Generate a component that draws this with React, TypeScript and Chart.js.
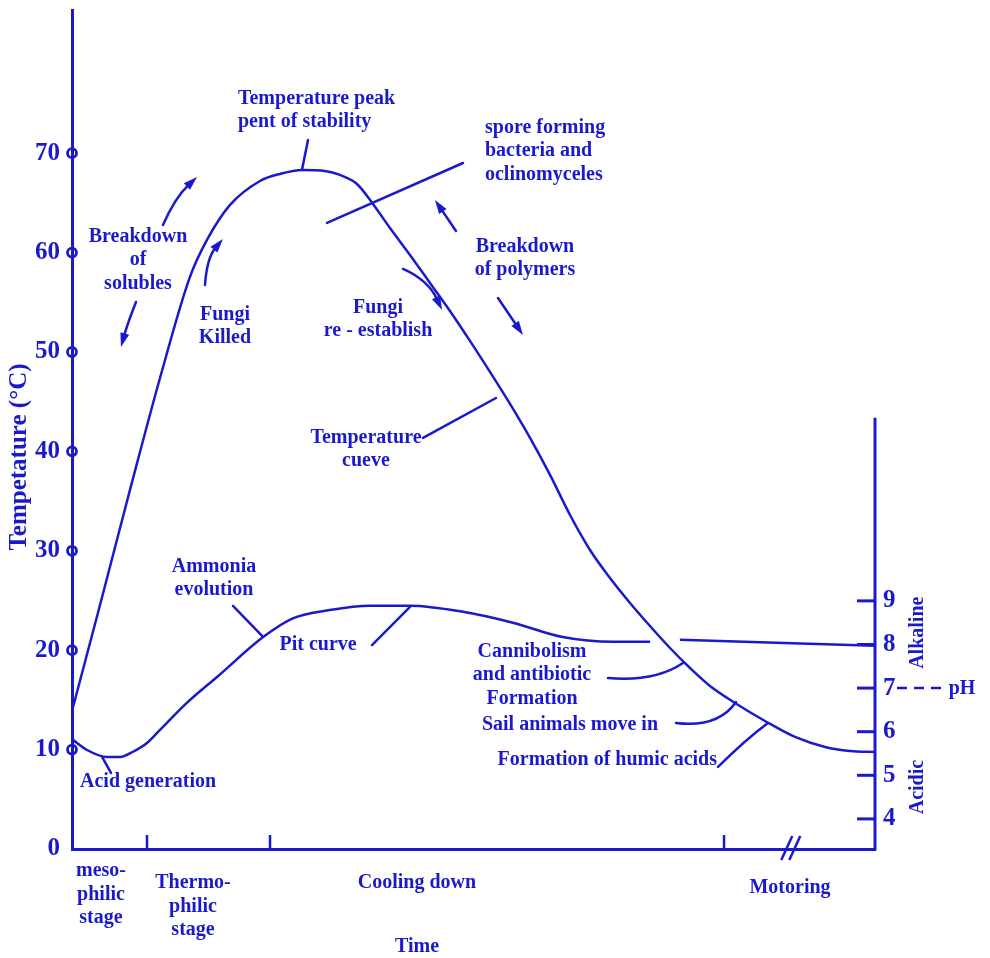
import React, { useEffect, useRef } from "react";
import { Chart, registerables } from "chart.js";

Chart.register(...registerables);

const BLUE = "#1a1acc";
const FONT = '"Liberation Serif", "Times New Roman", serif';

// ---- scales ----
const timeMin = 0;
const timeMax = 100;
const tempMin = 0;
const tempMax = 84.4;
const pHMin = 3.31;
const pHMax = 22.55;
const pHAxisTop = 13.2;
const tempTicks = [0, 10, 20, 30, 40, 50, 60, 70];
const pHTicks = [4, 5, 6, 7, 8, 9];

// ---- temperature curve (time units, °C) ----
const tempTime = [0, 3.49, 7.22, 10.96, 14.69, 16.81, 19.68, 23.41, 25.9, 28.64, 31.51, 33.37, 35.49, 37.48, 39.6, 42.09, 44.58, 47.07, 49.56, 52.05, 54.55, 57.04, 59.53, 62.02, 64.51, 67.0, 69.49, 71.98, 74.47, 76.96, 79.45, 82.57, 86.3, 90.04, 93.77, 96.89, 100];
const tempValues = [13.88, 24.55, 36.12, 47.38, 57.55, 61.27, 64.79, 67.2, 67.91, 68.31, 68.21, 67.81, 66.9, 64.89, 62.47, 59.76, 56.94, 54.12, 51.11, 47.99, 44.77, 41.35, 37.63, 33.6, 30.08, 27.26, 24.75, 22.43, 20.22, 18.21, 16.4, 14.69, 12.88, 11.27, 10.26, 9.86, 9.76];

// ---- pH curve (time units, pH) ; null = gap where it passes the temperature curve ----
const pHTime = [0, 1.87, 4.36, 5.98, 7.6, 9.34, 10.96, 14.3, 18.1, 23.8, 27.5, 32.1, 37.1, 42.1, 48.7, 54.9, 61.1, 67.4, 72.0, 73.9, 75.7, 100];
const pHValues = [5.83, 5.58, 5.42, 5.42, 5.54, 5.74, 6.04, 6.66, 7.26, 8.17, 8.6, 8.79, 8.89, 8.89, 8.75, 8.5, 8.17, 8.06, 8.06, null, 8.11, 7.97];

// ---- x axis stages ----
const stageBoundaries = [9.34, 24.66, 81.2];
const breakAt = 89.7;
const stageLabels = [
  { lines: ["meso-", "philic", "stage"], t: 3.61, off: 22 },
  { lines: ["Thermo-", "philic", "stage"], t: 15.07, off: 34 },
  { lines: ["Cooling down"], t: 42.96, off: 34 },
  { lines: ["Motoring"], t: 89.42, off: 39 },
];
const xTitle = { text: "Time", t: 42.96, off: 98 };
const yTitle = "Tempetature (°C)";

// ---- annotations (time, °C) ----
const notes = [
  { lines: ["Temperature peak", "pent of stability"], t: 20.67, v: 75.45, align: "left" },
  { lines: ["spore forming", "bacteria and", "oclinomyceles"], t: 51.43, v: 72.54, align: "left" },
  { lines: ["Breakdown", "of polymers"], t: 56.41, v: 60.56, align: "center" },
  { lines: ["Fungi", "re - establish"], t: 38.11, v: 54.43, align: "center" },
  { lines: ["Breakdown", "of", "solubles"], t: 8.22, v: 61.57, align: "center" },
  { lines: ["Fungi", "Killed"], t: 19.05, v: 53.72, align: "center" },
  { lines: ["Temperature", "cueve"], t: 36.61, v: 41.35, align: "center" },
  { lines: ["Pit curve"], t: 30.64, v: 20.52, align: "center" },
  { lines: ["Ammonia", "evolution"], t: 17.68, v: 28.37, align: "center" },
  { lines: ["Acid generation"], t: 1.0, v: 6.74, align: "left" },
  { lines: ["Cannibolism", "and antibiotic", "Formation"], t: 57.29, v: 19.82, align: "center" },
  { lines: ["Sail animals move in"], t: 72.98, v: 12.47, align: "right" },
  { lines: ["Formation of humic acids"], t: 80.32, v: 8.95, align: "right" },
];

const leaders = [
  { a: [29.39, 71.33], b: [28.64, 68.31] },
  { a: [31.76, 62.98], b: [48.69, 69.01] },
  { a: [43.71, 41.35], b: [52.8, 45.37] },
  { a: [37.36, 20.52], b: [42.09, 24.35] },
  { a: [20.05, 24.45], b: [23.79, 21.33] },
  { a: [4.86, 7.65], b: [3.74, 9.26] },
  { a: [66.75, 17.2], c: [72.6, 16.8], b: [76.09, 18.71] },
  { a: [75.22, 12.68], c: [80.45, 12.17], b: [82.69, 14.79] },
  { a: [80.45, 8.25], c: [83.81, 10.97], b: [86.67, 12.68] },
];

const arrows = [
  { a: [11.33, 62.78], c: [12.83, 65.5], b: [15.57, 67.61] },
  { a: [7.97, 55.03], c: [6.97, 53.0], b: [6.1, 50.5] },
  { a: [16.56, 56.74], c: [16.81, 59.46], b: [18.8, 61.37] },
  { a: [41.22, 58.35], c: [44.33, 57.24], b: [46.08, 54.23] },
  { a: [47.82, 62.17], b: [45.2, 65.29] },
  { a: [53.05, 55.43], b: [56.16, 51.71] },
];

const pHSideLabels = [
  { text: "Alkaline", p: 8.27 },
  { text: "Acidic", p: 4.73 },
];

const font = (size: number) => `bold ${size}px ${FONT}`;

const decorPlugin = {
  id: "decor",
  afterDraw(chart: any) {
    const { ctx, chartArea: ca, scales } = chart;
    const X = (t: number) => scales.x.getPixelForValue(t);
    const Y = (v: number) => scales.y.getPixelForValue(v);
    const P = (p: number) => scales.y2.getPixelForValue(p);
    const pt = (d: number[]) => ({ x: X(d[0]), y: Y(d[1]) });

    ctx.save();
    ctx.strokeStyle = BLUE;
    ctx.fillStyle = BLUE;
    ctx.lineCap = "round";
    ctx.lineJoin = "round";

    // left axis tick circles (rings, axis line visible through them)
    ctx.lineWidth = 2.8;
    tempTicks.forEach((v) => {
      if (v === 0) return;
      ctx.beginPath();
      ctx.arc(ca.left, Y(v), 4.5, 0, Math.PI * 2);
      ctx.stroke();
    });

    // x axis stage ticks
    ctx.lineWidth = 2.5;
    ctx.lineCap = "butt";
    stageBoundaries.forEach((t) => {
      ctx.beginPath();
      ctx.moveTo(X(t), ca.bottom);
      ctx.lineTo(X(t), ca.bottom - 14);
      ctx.stroke();
    });
    // break marks
    const bx = X(breakAt);
    [-6, 2].forEach((dx) => {
      ctx.beginPath();
      ctx.moveTo(bx + dx - 5, ca.bottom + 11);
      ctx.lineTo(bx + dx + 6, ca.bottom - 13);
      ctx.stroke();
    });

    // right pH axis
    ctx.lineWidth = 3;
    ctx.beginPath();
    ctx.moveTo(ca.right, P(pHAxisTop));
    ctx.lineTo(ca.right, ca.bottom + 1.5);
    ctx.stroke();
    pHTicks.forEach((p) => {
      ctx.beginPath();
      ctx.moveTo(ca.right - 18, P(p));
      ctx.lineTo(ca.right, P(p));
      ctx.stroke();
    });
    ctx.font = font(20);
    ctx.textAlign = "center";
    ctx.textBaseline = "middle";
    pHSideLabels.forEach((l) => {
      ctx.save();
      ctx.translate(ca.right + 43, P(l.p));
      ctx.rotate(-Math.PI / 2);
      ctx.fillText(l.text, 0, 0);
      ctx.restore();
    });
    ctx.save();
    ctx.lineWidth = 2.5;
    ctx.setLineDash([10, 7]);
    ctx.beginPath();
    ctx.moveTo(ca.right + 22, P(7));
    ctx.lineTo(ca.right + 66, P(7));
    ctx.stroke();
    ctx.restore();
    ctx.fillText("pH", ca.right + 87, P(7) + 1);

    // y axis title
    ctx.save();
    ctx.font = font(25);
    ctx.translate(20, 457);
    ctx.rotate(-Math.PI / 2);
    ctx.fillText(yTitle, 0, 0);
    ctx.restore();

    // stage labels
    ctx.font = font(20);
    stageLabels.forEach((s) => {
      s.lines.forEach((line, i) => {
        ctx.fillText(line, X(s.t), ca.bottom + s.off + i * 23.5);
      });
    });
    ctx.fillText(xTitle.text, X(xTitle.t), ca.bottom + xTitle.off);

    // annotation texts
    notes.forEach((n) => {
      ctx.textAlign = n.align as CanvasTextAlign;
      n.lines.forEach((line, i) => {
        ctx.fillText(line, X(n.t), Y(n.v) + i * 23.3);
      });
    });

    // leaders
    ctx.lineWidth = 2.5;
    ctx.lineCap = "round";
    leaders.forEach((l: any) => {
      const a = pt(l.a), b = pt(l.b);
      ctx.beginPath();
      ctx.moveTo(a.x, a.y);
      if (l.c) {
        const c = pt(l.c);
        ctx.quadraticCurveTo(c.x, c.y, b.x, b.y);
      } else ctx.lineTo(b.x, b.y);
      ctx.stroke();
    });

    // arrows
    arrows.forEach((l: any) => {
      const a = pt(l.a), b = pt(l.b);
      const c = l.c ? pt(l.c) : { x: (a.x + b.x) / 2, y: (a.y + b.y) / 2 };
      const ang = Math.atan2(b.y - c.y, b.x - c.x);
      const len = 14, w = 4.5;
      const ex = b.x - (len - 2) * Math.cos(ang), ey = b.y - (len - 2) * Math.sin(ang);
      ctx.beginPath();
      ctx.moveTo(a.x, a.y);
      ctx.quadraticCurveTo(c.x, c.y, ex, ey);
      ctx.stroke();
      const bx2 = b.x - len * Math.cos(ang), by2 = b.y - len * Math.sin(ang);
      ctx.beginPath();
      ctx.moveTo(b.x, b.y);
      ctx.lineTo(bx2 + w * Math.sin(ang), by2 - w * Math.cos(ang));
      ctx.lineTo(bx2 - w * Math.sin(ang), by2 + w * Math.cos(ang));
      ctx.closePath();
      ctx.fill();
    });

    ctx.restore();
  },
};

const zeroPad = (s: any) => {
  s.paddingTop = 0;
  s.paddingBottom = 0;
  s.paddingLeft = 0;
  s.paddingRight = 0;
};

export default function App() {
  const ref = useRef<HTMLCanvasElement | null>(null);
  useEffect(() => {
    if (!ref.current) return;
    const tickFont = { family: FONT, weight: "bold" as const, size: 25 };
    const chart = new Chart(ref.current, {
      type: "line",
      data: {
        datasets: [
          {
            label: "Temperature curve",
            data: tempTime.map((t, i) => ({ x: t, y: tempValues[i] })),
            yAxisID: "y",
            borderColor: BLUE,
            borderWidth: 2.5,
            pointRadius: 0,
            cubicInterpolationMode: "monotone",
            fill: false,
          },
          {
            label: "pH curve",
            data: pHTime.map((t, i) => ({ x: t, y: pHValues[i] as any })),
            yAxisID: "y2",
            borderColor: BLUE,
            borderWidth: 2.5,
            pointRadius: 0,
            cubicInterpolationMode: "monotone",
            spanGaps: false,
            fill: false,
          },
        ],
      },
      options: {
        responsive: false,
        animation: false,
        events: [],
        layout: { padding: { top: 10, left: 0, right: 0, bottom: 0 } },
        plugins: {
          legend: { display: false },
          tooltip: { enabled: false },
          title: { display: false },
        },
        scales: {
          x: {
            type: "linear",
            position: "bottom",
            min: timeMin,
            max: timeMax,
            grid: { display: false },
            ticks: { display: false },
            border: { display: true, color: BLUE, width: 3 },
            afterFit: (s: any) => {
              s.height = 109;
              zeroPad(s);
            },
          },
          y: {
            type: "linear",
            position: "left",
            min: tempMin,
            max: tempMax,
            grid: { display: false, drawTicks: false },
            border: { display: true, color: BLUE, width: 3 },
            ticks: { color: BLUE, font: tickFont, padding: 12 },
            afterBuildTicks: (s: any) => {
              s.ticks = tempTicks.map((v) => ({ value: v }));
            },
            afterFit: (s: any) => {
              s.width = 72;
              zeroPad(s);
            },
          },
          y2: {
            type: "linear",
            position: "right",
            min: pHMin,
            max: pHMax,
            grid: { display: false, drawTicks: false },
            border: { display: false },
            ticks: { color: BLUE, font: tickFont, padding: 8 },
            afterBuildTicks: (s: any) => {
              s.ticks = pHTicks.map((v) => ({ value: v }));
            },
            afterFit: (s: any) => {
              s.width = 115;
              zeroPad(s);
            },
          },
        },
      } as any,
      plugins: [decorPlugin],
    });
    return () => chart.destroy();
  }, []);
  return (
    <div style={{ position: "absolute", left: 0, top: 0, width: 990, height: 958, background: "#ffffff" }}>
      <canvas ref={ref} width={990} height={958} style={{ display: "block" }} />
    </div>
  );
}
